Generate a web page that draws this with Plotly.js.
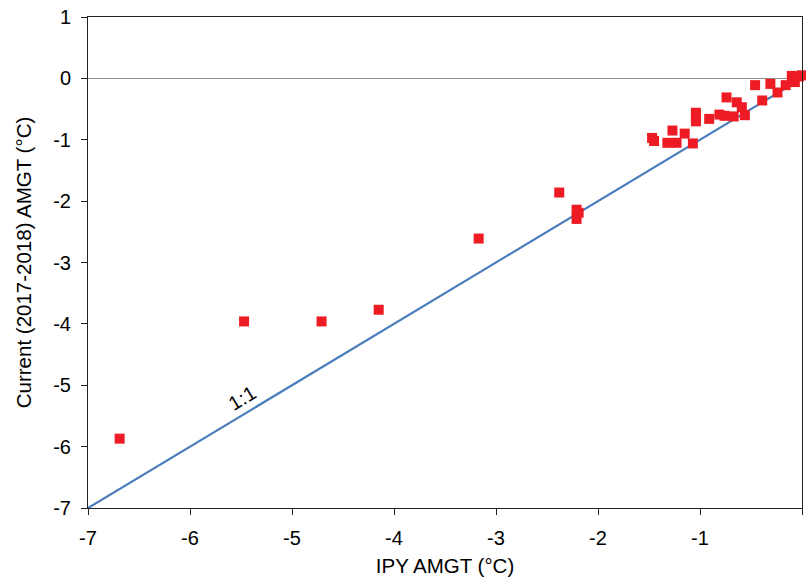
<!DOCTYPE html>
<html>
<head>
<meta charset="utf-8">
<script src="https://cdn.plot.ly/plotly-3.0.1.min.js"></script>
<style>html,body{margin:0;padding:0;background:#fff;}#chart{width:806px;height:584px;}</style>
</head>
<body>
<div id="chart"></div>
<script>
// IPY AMGT (x) vs Current (2017-2018) AMGT (y)
const ipyAMGT = [-6.69, -5.47, -4.71, -4.15, -3.17, -2.38, -2.21, -2.19, -2.21,
  -1.47, -1.45, -1.32, -1.27, -1.23, -1.15, -1.07, -1.04, -1.04, -1.04,
  -0.91, -0.81, -0.76, -0.74, -0.67, -0.64, -0.59, -0.56, -0.46, -0.39,
  -0.31, -0.24, -0.16, -0.10, -0.07, -0.03, 0.0];
const currentAMGT = [-5.87, -3.96, -3.96, -3.77, -2.61, -1.86, -2.14, -2.19, -2.29,
  -0.97, -1.02, -1.05, -0.85, -1.05, -0.90, -1.06, -0.56, -0.64, -0.70,
  -0.66, -0.59, -0.61, -0.31, -0.62, -0.39, -0.47, -0.60, -0.11, -0.36,
  -0.09, -0.23, -0.11, 0.04, -0.06, 0.03, 0.05];
const oneToOneX = [-7, 0];
const oneToOneY = [-7, 0];
const xTicks = [-7, -6, -5, -4, -3, -2, -1, 0];
const yTicks = [-7, -6, -5, -4, -3, -2, -1, 0, 1];

const font = {family: 'Liberation Sans, Arial, sans-serif', size: 20, color: '#000'};
const titleFont = {family: 'Liberation Sans, Arial, sans-serif', size: 20.5, color: '#000'};

const traces = [
  {x: oneToOneX, y: oneToOneY, mode: 'lines', type: 'scatter',
   line: {color: '#4A7EBB', width: 2.2}, hoverinfo: 'skip', cliponaxis: false},
  {x: ipyAMGT, y: currentAMGT, mode: 'markers', type: 'scatter',
   marker: {symbol: 'square', size: 10, color: '#ED1C24'}, cliponaxis: false}
];

const layout = {
  width: 806, height: 584,
  margin: {l: 88, r: 4, t: 17, b: 76},
  paper_bgcolor: '#fff', plot_bgcolor: '#fff',
  showlegend: false,
  font: font,
  xaxis: {
    range: [-7, 0], tickvals: xTicks, ticktext: xTicks.map(String),
    showgrid: false, zeroline: false,
    showline: true, linecolor: '#222', linewidth: 1, mirror: true,
    ticks: 'outside', ticklen: 6, tickcolor: '#222',
    tickfont: font, ticklabelstandoff: 6,
    title: {text: 'IPY AMGT (°C)', font: titleFont, standoff: 10}
  },
  yaxis: {
    range: [-7, 1], tickvals: yTicks, ticktext: yTicks.map(String),
    showgrid: false, zeroline: true, zerolinecolor: '#8c8c8c', zerolinewidth: 1,
    showline: true, linecolor: '#222', linewidth: 1, mirror: true,
    ticks: 'outside', ticklen: 6, tickcolor: '#222',
    tickfont: font, ticklabelstandoff: 6,
    title: {text: 'Current (2017-2018) AMGT (°C)', font: titleFont, standoff: 16}
  },
  annotations: [{
    x: -5.49, y: -5.2, xref: 'x', yref: 'y', text: '1:1', showarrow: false,
    textangle: -31, font: font
  }]
};

Plotly.newPlot('chart', traces, layout, {staticPlot: true, displayModeBar: false});
</script>
</body>
</html>
